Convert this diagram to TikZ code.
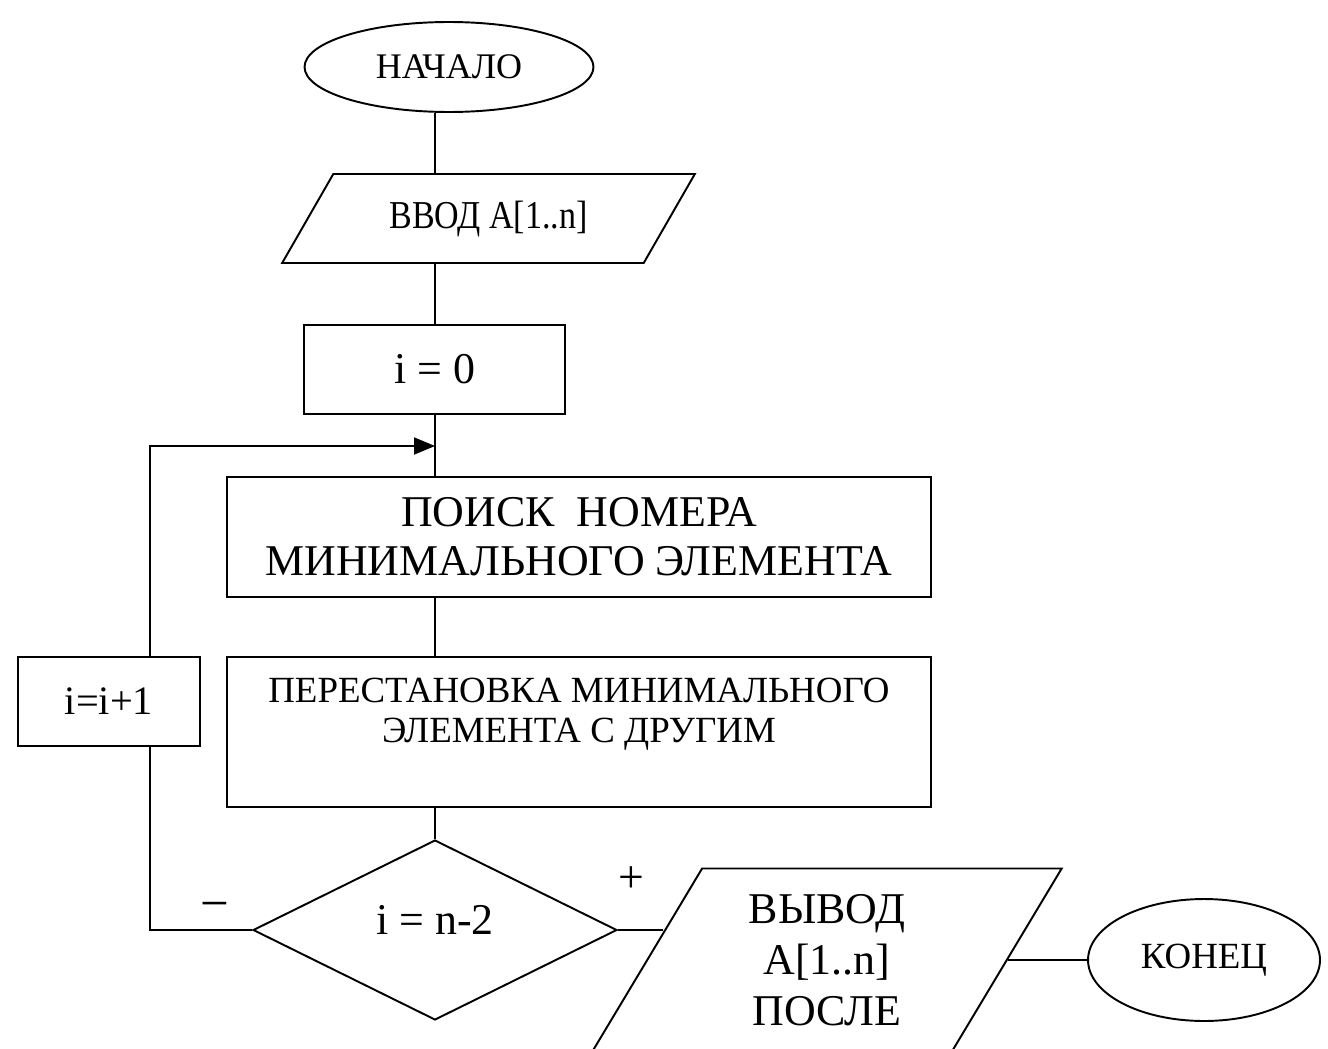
\documentclass[tikz,border=0pt]{standalone}
\usepackage{fontspec}
\setmainfont{Liberation Serif}
\newfontfamily\narrowserif[FakeStretch=0.86]{Liberation Serif}
\usetikzlibrary{shapes.geometric,arrows.meta}

\begin{document}
\begin{tikzpicture}[
            x = 0.02cm, y = -0.02cm,
            line width = 1.1pt,
            every node/.style = {inner sep = 0pt, line width = 1.1pt},
            term/.style = {draw, ellipse},
            io/.style = {draw, trapezium, trapezium stretches = true},
            proc/.style = {draw, rectangle},
            decision/.style = {draw, diamond},
            fsize/.style 2 args = {font = \fontsize{#1}{#2}\selectfont}]
            \useasboundingbox (0,0) rectangle (1328,1048);
            \coordinate (spine) at (435,0);
            \coordinate (loop) at (150,0);
            \coordinate (join) at (435,446);
            \node[term, minimum width = 5.78cm, minimum height = 1.8cm, fsize = {20.5}{24}] (nachalo) at (449,67) {НАЧАЛО};
            \node[io, trapezium left angle = 47.7, trapezium right angle = 132.3,
                minimum width = 8.26cm, minimum height = 1.78cm,
                font = \narrowserif\fontsize{22.5}{26}\selectfont] (vvod) at (488.5,218.5) {ВВОД A[1..n]};
            \node[proc, minimum width = 5.22cm, minimum height = 1.78cm, fsize = {25}{30}] (init) at (434.5,369.5) {i = 0};
            \node[proc, minimum width = 14.08cm, minimum height = 2.4cm, align = center, fsize = {25}{28}] (poisk) at (579,537)
                {ПОИСК\ \ НОМЕРА\\МИНИМАЛЬНОГО ЭЛЕМЕНТА};
            \node[proc, minimum width = 14.08cm, minimum height = 3cm] (perest) at (579,732) {};
            \node[align = center, fsize = {21}{22.5}] (perest-text) at (579,714)
                {ПЕРЕСТАНОВКА МИНИМАЛЬНОГО\\ЭЛЕМЕНТА С ДРУГИМ};
            \node[decision, minimum width = 7.28cm, minimum height = 3.6cm, text depth = 11pt, fsize = {25}{30}] (cond) at (435,930) {i = n-2};
            \node[proc, minimum width = 3.64cm, minimum height = 1.78cm, fsize = {23}{27}] (inc) at (109,701.5) {i=i+1};
            \node[io, trapezium left angle = 62.4, trapezium right angle = 117.6,
                minimum width = 9.41cm, minimum height = 3.66cm, align = center, fsize = {25}{29}] (vyvod) at (827,960)
                {ВЫВОД\\A[1..n]\\ПОСЛЕ};
            \node[term, minimum width = 4.64cm, minimum height = 2.44cm, fsize = {21}{25}] (konec) at (1204,960) {КОНЕЦ};
            \node[fsize = {29}{32}] (minus) at (215,911) {−};
            \node[fsize = {26}{30}] (plus) at (631,880) {+};
            \draw (nachalo.south -| spine) -- (vvod.north -| spine);
            \draw (vvod.south -| spine) -- (init.north -| spine);
            \draw (init.south -| spine) -- (poisk.north -| spine);
            \draw (poisk.south -| spine) -- (perest.north -| spine);
            \draw (perest.south -| spine) -- (cond.north);
            \draw (cond.west) -| (inc.south -| loop);
            \draw[-{Triangle[length = 0.42cm, width = 0.34cm]}] (inc.north -| loop) |- (join);
            \draw (cond.east) -- (cond.east -| vyvod.170);
            \draw (vyvod.east) -- (konec.west);
\end{tikzpicture}
\end{document}
